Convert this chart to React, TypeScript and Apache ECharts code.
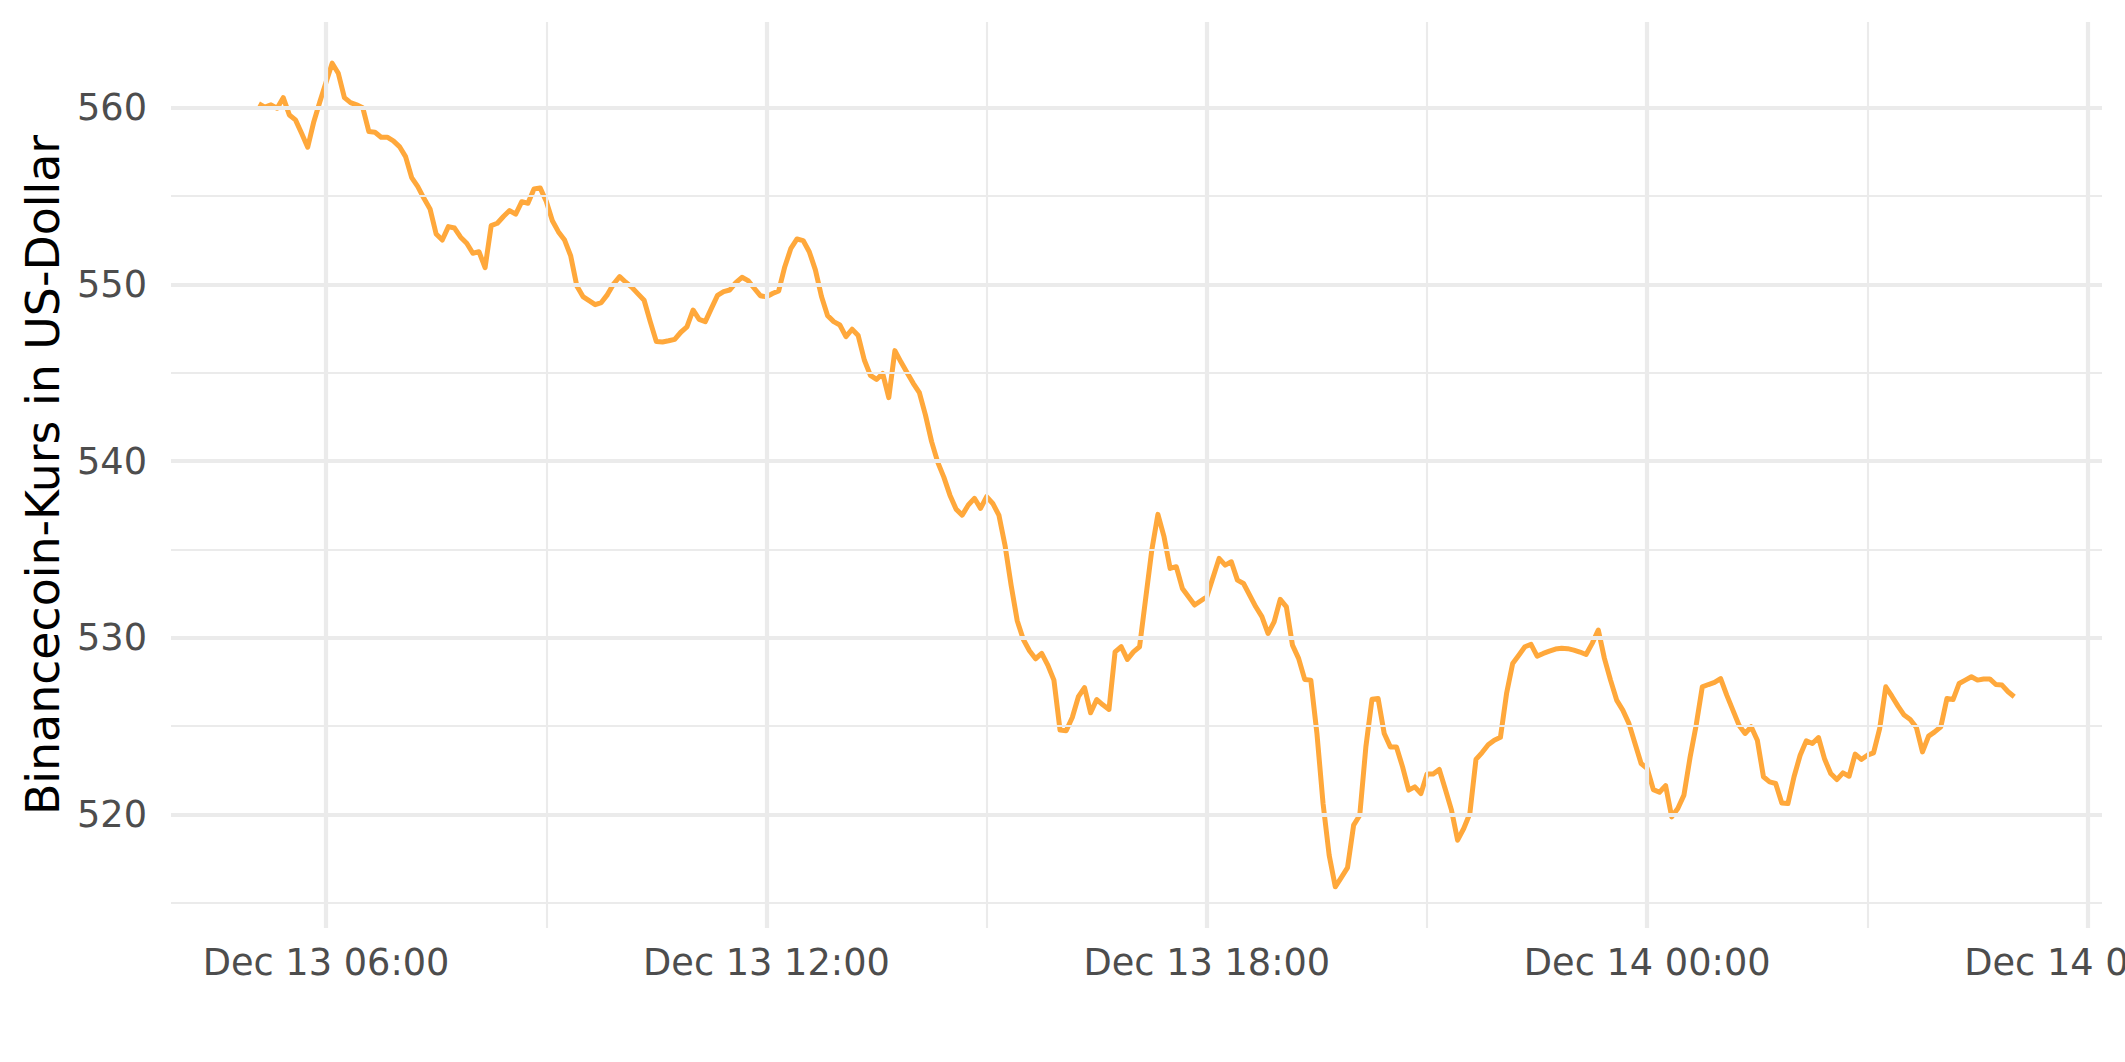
import React, { useEffect, useRef } from "react";
import * as echarts from "echarts";

// minutes since Dec 13 00:00 (5-minute bars)
const minutes = [
  305, 310, 315, 320, 325, 330, 335, 340, 345, 350, 355, 360,
  365, 370, 375, 380, 385, 390, 395, 400, 405, 410, 415, 420,
  425, 430, 435, 440, 445, 450, 455, 460, 465, 470, 475, 480,
  485, 490, 495, 500, 505, 510, 515, 520, 525, 530, 535, 540,
  545, 550, 555, 560, 565, 570, 575, 580, 585, 590, 595, 600,
  605, 610, 615, 620, 625, 630, 635, 640, 645, 650, 655, 660,
  665, 670, 675, 680, 685, 690, 695, 700, 705, 710, 715, 720,
  725, 730, 735, 740, 745, 750, 755, 760, 765, 770, 775, 780,
  785, 790, 795, 800, 805, 810, 815, 820, 825, 830, 835, 840,
  845, 850, 855, 860, 865, 870, 875, 880, 885, 890, 895, 900,
  905, 910, 915, 920, 925, 930, 935, 940, 945, 950, 955, 960,
  965, 970, 975, 980, 985, 990, 995, 1000, 1005, 1010, 1015, 1020,
  1025,
  1035, 1040, 1045, 1050, 1055, 1060, 1070, 1080, 1090, 1095, 1100, 1105, 1110,
  1120, 1125, 1130, 1135, 1140, 1145, 1150, 1155, 1160, 1165, 1170, 1175,
  1180, 1185, 1190, 1195, 1200, 1205, 1210, 1215, 1220, 1225, 1230, 1235,
  1240, 1245, 1250, 1255, 1260, 1265, 1270, 1275, 1280, 1285, 1290, 1295,
  1300, 1305, 1310, 1315, 1320, 1325, 1330, 1335, 1340, 1345, 1350, 1355,
  1360, 1365, 1370, 1375, 1380, 1385, 1390, 1395, 1400, 1405, 1410, 1415,
  1420, 1425, 1430, 1435, 1440, 1445, 1450, 1455, 1460, 1465, 1470, 1475,
  1480, 1485, 1490, 1495, 1500, 1505, 1510, 1515, 1520, 1525, 1530, 1535,
  1540, 1545, 1550, 1555, 1560, 1565, 1570, 1575, 1580, 1585, 1590, 1595,
  1600, 1605, 1610, 1615, 1620, 1625, 1630, 1635, 1640, 1645, 1650, 1655,
  1660, 1665, 1670, 1675, 1680, 1685, 1690, 1695, 1700, 1705, 1710, 1715,
  1720, 1725, 1730, 1735, 1740,
];

const prices = [
  560.22, 560.03, 560.16, 559.97, 560.57, 559.59, 559.31, 558.55, 557.76, 559.21, 560.35, 561.44,
  562.52, 561.95, 560.57, 560.29, 560.16, 560.0, 558.65, 558.61, 558.33, 558.33, 558.12, 557.8,
  557.23, 556.04, 555.53, 554.87, 554.27, 552.85, 552.51, 553.27, 553.19, 552.67, 552.33, 551.76,
  551.85, 550.95, 553.33, 553.46, 553.84, 554.18, 553.97, 554.68, 554.59, 555.4, 555.46, 554.7,
  553.6, 552.97, 552.51, 551.61, 549.91, 549.31, 549.08, 548.85, 548.97, 549.42, 550.02, 550.44,
  550.12, 549.83, 549.46, 549.1, 547.89, 546.76, 546.74, 546.81, 546.89, 547.29, 547.59, 548.55,
  548.02, 547.89, 548.64, 549.38, 549.59, 549.68, 550.1, 550.4, 550.21, 549.78, 549.36, 549.29,
  549.48, 549.63, 551.0, 552.04, 552.57, 552.48, 551.85, 550.82, 549.31, 548.23, 547.89, 547.7,
  547.04, 547.46, 547.1, 545.72, 544.85, 544.62, 544.96, 543.59, 546.25, 545.6, 545.0, 544.4,
  543.87, 542.6, 541.1, 539.94, 539.09, 538.07, 537.28, 536.94, 537.51, 537.89, 537.32, 537.98,
  537.6, 536.94, 535.24, 532.98, 530.96, 529.9, 529.26, 528.81, 529.11, 528.45, 527.6, 524.77,
  524.73, 525.48, 526.66, 527.18, 525.75, 526.5, 526.2, 525.94, 529.2, 529.49, 528.77, 529.2,
  529.49,
  534.96, 536.98, 535.72, 533.92, 534.02, 532.79, 531.85, 532.32, 534.49, 534.11, 534.3, 533.26, 533.07,
  531.75, 531.19, 530.24, 530.9, 532.17, 531.75, 529.58, 528.83, 527.64, 527.6, 524.58, 520.62,
  517.69, 515.9, 516.44, 516.99, 519.39, 519.95, 523.82, 526.52, 526.56, 524.58, 523.82, 523.82,
  522.69, 521.37, 521.56, 521.18, 522.28, 522.28, 522.54, 521.41, 520.24, 518.54, 519.2, 520.05,
  523.11, 523.5, 523.94, 524.2, 524.36, 526.84, 528.54, 529.01, 529.49, 529.62, 528.96, 529.11,
  529.24, 529.36, 529.4, 529.38, 529.3, 529.19, 529.05, 529.68, 530.43, 528.83, 527.6, 526.47,
  525.9, 525.15, 524.01, 522.88, 522.6, 521.4, 521.25, 521.63, 519.86, 520.33, 521.09, 523.22,
  525.05, 527.22, 527.35, 527.47, 527.69, 526.75, 525.9, 525.05, 524.58, 524.96, 524.2, 522.13,
  521.84, 521.75, 520.65, 520.61, 522.13, 523.35, 524.16, 524.01, 524.35, 523.13, 522.31, 521.97,
  522.35, 522.16, 523.41, 523.11, 523.35, 523.48, 524.86, 527.22, 526.69, 526.13, 525.62, 525.37,
  524.92, 523.54, 524.43, 524.67, 524.96, 526.56, 526.5, 527.41, 527.6, 527.79, 527.6, 527.66,
  527.67, 527.35, 527.32, 526.94, 526.66,
];

const xMajorTicks = [360, 720, 1080, 1440, 1800];
const xMinorTicks = [540, 900, 1260, 1620];
const yMajorTicks = [520, 530, 540, 550, 560];
const yMinorTicks = [515, 525, 535, 545, 555];
const yTitle = "Binancecoin-Kurs in US-Dollar";
const monthName = "Dec";
const firstDay = 13;

const pad = (n: number) => (n < 10 ? "0" + n : String(n));
const fmtTime = (m: number) => {
  const day = firstDay + Math.floor(m / 1440);
  const r = m % 1440;
  return `${monthName} ${day} ${pad(Math.floor(r / 60))}:${pad(r % 60)}`;
};

const FONT = "DejaVu Sans";
const GRID = "#EBEBEB";

export default function App() {
  const ref = useRef<HTMLDivElement>(null);
  useEffect(() => {
    if (!ref.current) return;
    const chart = echarts.init(ref.current, undefined, { renderer: "svg" });
    const xLo = Math.min(...minutes), xHi = Math.max(...minutes);
    const yLo = Math.min(...prices), yHi = Math.max(...prices);
    const xPad = (xHi - xLo) * 0.05, yPad = (yHi - yLo) * 0.05;

    const gridLines: any[] = [];
    xMajorTicks.forEach((v) => gridLines.push({ xAxis: v, lineStyle: { color: GRID, width: 4.2, type: "solid" } }));
    xMinorTicks.forEach((v) => gridLines.push({ xAxis: v, lineStyle: { color: GRID, width: 2.1, type: "solid" } }));
    yMajorTicks.forEach((v) => gridLines.push({ yAxis: v, lineStyle: { color: GRID, width: 4.2, type: "solid" } }));
    yMinorTicks.forEach((v) => gridLines.push({ yAxis: v, lineStyle: { color: GRID, width: 2.1, type: "solid" } }));

    chart.setOption({
      animation: false,
      backgroundColor: "#ffffff",
      grid: {
        left: 171,
        right: 23,
        top: 22,
        bottom: 134,
        containLabel: false,
        outerBoundsMode: "none",
      },
      xAxis: {
        type: "value",
        min: xLo - xPad,
        max: xHi + xPad,
        axisLine: { show: false },
        axisTick: { show: false },
        splitLine: { show: false },
        axisLabel: {
          customValues: xMajorTicks,
          formatter: (v: number) => fmtTime(v),
          color: "#4D4D4D",
          fontSize: 36.7,
          fontFamily: FONT,
          margin: 16,
        },
      },
      yAxis: {
        type: "value",
        min: yLo - yPad,
        max: yHi + yPad,
        axisLine: { show: false },
        axisTick: { show: false },
        splitLine: { show: false },
        axisLabel: {
          customValues: yMajorTicks,
          formatter: (v: number) => String(Math.round(v)),
          color: "#4D4D4D",
          fontSize: 36.7,
          fontFamily: FONT,
          margin: 24,
        },
        name: yTitle,
        nameLocation: "middle",
        nameGap: 104,
        nameTextStyle: { color: "#000000", fontSize: 45.8, fontFamily: FONT },
      },
      series: [
        {
          type: "line",
          z: 1,
          silent: true,
          data: [],
          markLine: {
            silent: true,
            animation: false,
            symbol: ["none", "none"],
            label: { show: false },
            lineStyle: { type: "solid" },
            emphasis: { disabled: true },
            data: gridLines,
          },
        },
        {
          type: "line",
          z: 3,
          data: minutes.map((m, i) => [m, prices[i]]),
          showSymbol: false,
          symbol: "none",
          lineStyle: { color: "#FFA83B", width: 5, join: "round", cap: "butt" },
          itemStyle: { color: "#FFA83B" },
          emphasis: { disabled: true },
        },
      ],
    });
    return () => chart.dispose();
  }, []);
  return (
    <div
      ref={ref}
      style={{ position: "fixed", left: 0, top: 0, width: 2125, height: 1062, background: "#fff" }}
    />
  );
}
